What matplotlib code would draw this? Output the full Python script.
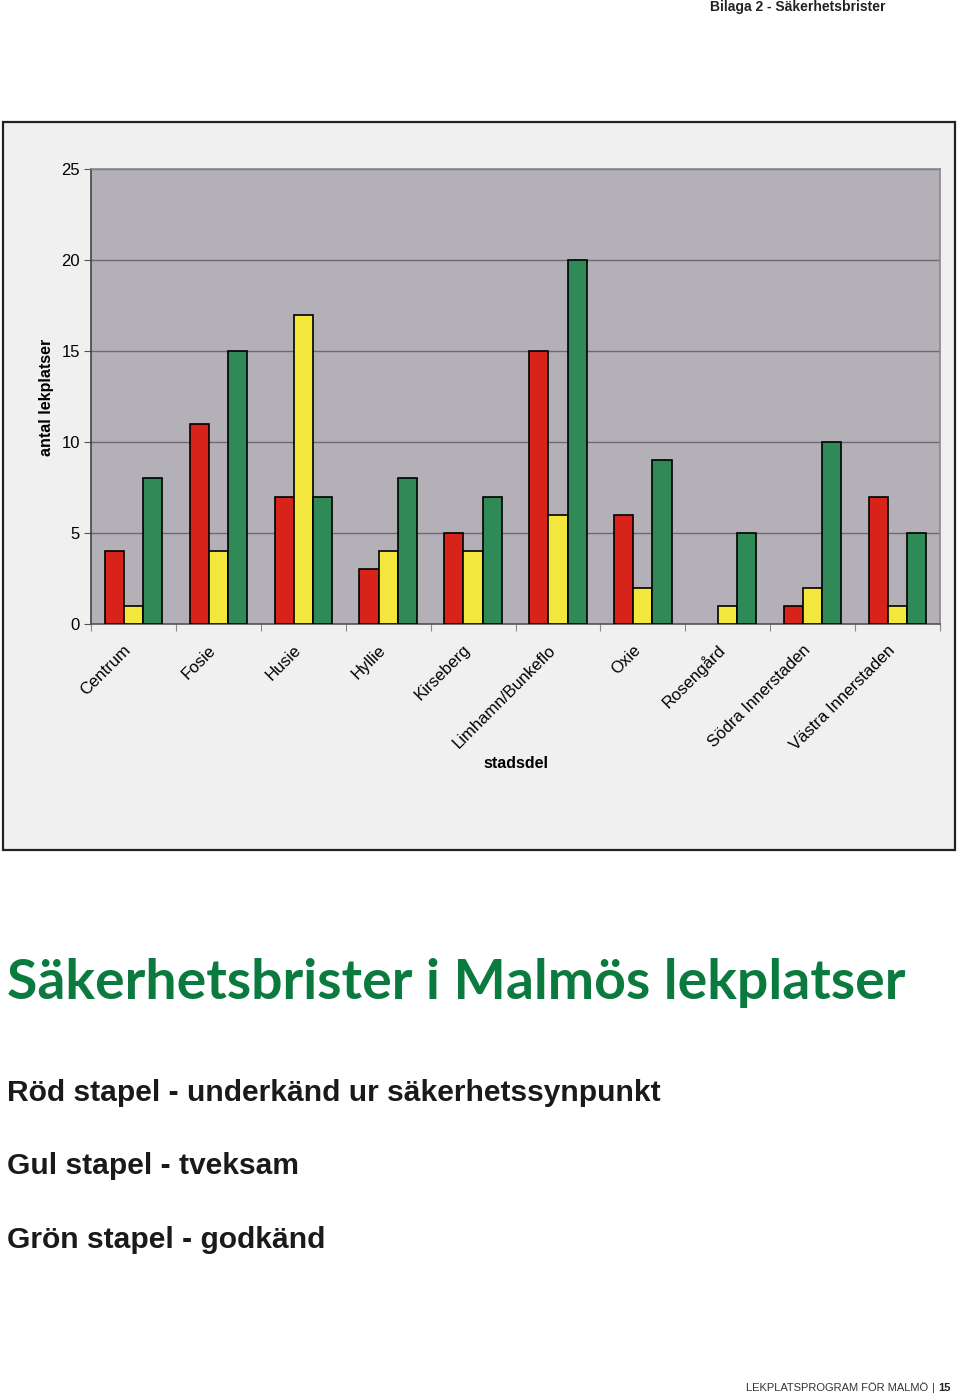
import matplotlib
matplotlib.use("Agg")
import matplotlib.pyplot as plt
from matplotlib.patches import Rectangle
from matplotlib.transforms import ScaledTranslation
import numpy as np

categories = ["Centrum", "Fosie", "Husie", "Hyllie", "Kirseberg", "Limhamn/Bunkeflo",
              "Oxie", "Rosengård", "Södra Innerstaden", "Västra Innerstaden"]
red_values = [4, 11, 7, 3, 5, 15, 6, 0, 1, 7]
yellow_values = [1, 4, 17, 4, 4, 6, 2, 1, 2, 1]
green_values = [8, 15, 7, 8, 7, 20, 9, 5, 10, 5]
y_ticks = [0, 5, 10, 15, 20, 25]

W, H = 960, 1397
fig = plt.figure(figsize=(W / 100, H / 100), dpi=100)
fig.patch.set_facecolor("white")

def fx(x):
    return x / W

def fy(y):
    return 1 - y / H

# scanned chart frame
frame = Rectangle((fx(3), fy(850)), fx(955) - fx(3), fy(122) - fy(850),
                  transform=fig.transFigure, facecolor="#f0f0f1", edgecolor="#222222",
                  linewidth=1.6, zorder=-5)
fig.patches.append(frame)

ax = fig.add_axes([fx(91), fy(624), fx(940) - fx(91), fy(169) - fy(624)])
ax.set_zorder(2)
ax.set_facecolor("#b4b0b8")
x = np.arange(len(categories))
bw = 0.225

def lw(vals):
    return [1.2 if v > 0 else 0 for v in vals]

ax.bar(x - bw, red_values, bw, color="#d8231b", edgecolor="black", linewidth=lw(red_values), zorder=3)
ax.bar(x, yellow_values, bw, color="#f3e63d", edgecolor="black", linewidth=lw(yellow_values), zorder=3)
ax.bar(x + bw, green_values, bw, color="#2f8a58", edgecolor="black", linewidth=lw(green_values), zorder=3)

ax.set_xlim(-0.5, len(categories) - 0.5)
ax.set_ylim(0, 25)
ax.set_yticks(y_ticks)
ax.set_yticklabels([str(v) for v in y_ticks], fontsize=12, family="Liberation Sans")
ax.yaxis.grid(True, color="#6e6a70", linewidth=1.0)
ax.set_axisbelow(True)
ax.tick_params(axis="y", length=5, color="#555555", pad=3)

ax.set_xticks(np.arange(len(categories) + 1) - 0.5, minor=False)
ax.set_xticklabels([])
ax.tick_params(axis="x", which="major", length=5, color="#888888", direction="out")
ax.set_xticks(x, minor=True)
ax.set_xticklabels(categories, minor=True, rotation=45, ha="right", va="center",
                   rotation_mode="anchor", fontsize=12, family="Liberation Sans")
ax.tick_params(axis="x", which="minor", length=0, pad=17)
off = ScaledTranslation(-5 / 100, 0, fig.dpi_scale_trans)
for lab in ax.get_xticklabels(minor=True):
    lab.set_transform(lab.get_transform() + off)

for s in ["top", "right"]:
    ax.spines[s].set_color("#8a878c")
    ax.spines[s].set_linewidth(1.2)
ax.spines["left"].set_color("#444444")
ax.spines["bottom"].set_color("#555555")
ax.spines["left"].set_linewidth(1.2)
ax.spines["bottom"].set_linewidth(1.2)

fig.text(fx(46), fy(397), "antal lekplatser", rotation=90, ha="center", va="center",
         fontsize=11.5, fontweight="bold", family="Liberation Sans")
fig.text(fx(516), fy(763), "stadsdel", ha="center", va="center",
         fontsize=11.5, fontweight="bold", family="Liberation Sans")

# page texts
fig.text(fx(886), fy(7), "Bilaga 2 - Säkerhetsbrister", ha="right", va="center",
         fontsize=10, fontweight="bold", family="Liberation Sans", color="#222222")

title = fig.text(fx(7), fy(983), "Säkerhetsbrister i Malmös lekplatser", ha="left",
                 va="center", fontsize=46, fontweight="bold", family="Lato",
                 color="#0b7a3e")
renderer = fig.canvas.get_renderer()
w = title.get_window_extent(renderer).width
title.set_fontsize(46 * 898 / w)

for ytxt, t in [(1093, "Röd stapel - underkänd ur säkerhetssynpunkt"),
                (1166, "Gul stapel - tveksam"),
                (1240, "Grön stapel - godkänd")]:
    fig.text(fx(7), fy(ytxt), t, ha="left", va="center", fontsize=21.6,
             fontweight="bold", family="Liberation Sans", color="#1a1a1a")

fig.text(fx(928), fy(1388), "LEKPLATSPROGRAM FÖR MALMÖ", ha="right", va="center",
         fontsize=8, family="Liberation Sans", color="#333333")
fig.text(fx(933), fy(1388), "|", ha="center", va="center",
         fontsize=8, family="Liberation Sans", color="#333333")
fig.text(fx(938), fy(1388), "15", ha="left", va="center",
         fontsize=8, fontweight="bold", family="Liberation Sans", color="#222222")

fig.savefig("out.png", dpi=100, facecolor="white")
